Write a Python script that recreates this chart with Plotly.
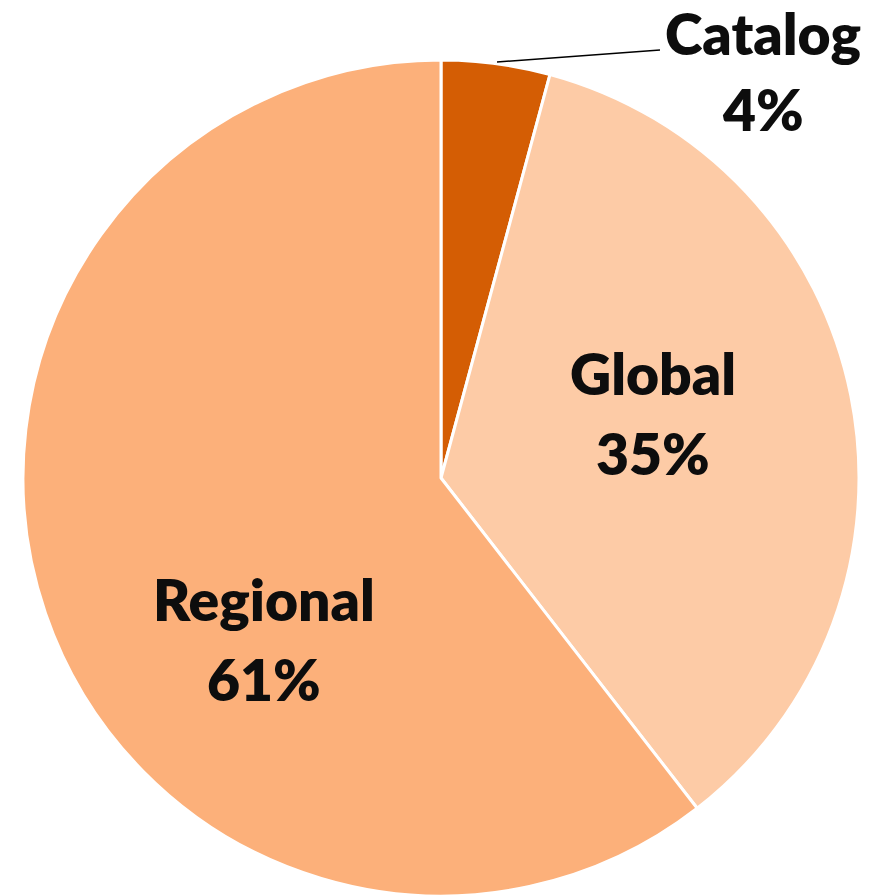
import plotly.graph_objects as go

categories = ["Catalog", "Global", "Regional"]
values = [4.2, 35.3, 60.5]
pct_labels = ["4%", "35%", "61%"]
colors = ["#D45D04", "#FDCBA6", "#FCB07A"]

W, H = 881, 896
cx, cy, r = 441, 478, 418

fig = go.Figure(go.Pie(
    labels=categories, values=values, sort=False, direction="clockwise",
    rotation=0, marker=dict(colors=colors, line=dict(color="white", width=3)),
    textinfo="none", hoverinfo="label+percent", showlegend=False,
    domain=dict(x=[(cx - r) / W, (cx + r) / W], y=[(H - cy - r) / H, (H - cy + r) / H]),
))

font = dict(family="Lato, Open Sans, sans-serif", size=57, color="#0D0D0D", weight=800)
# label positions in pixels (center x, name y, pct y)
label_pos = {"Catalog": (763, 33, 109), "Global": (653, 373, 453), "Regional": (264, 599, 679)}
for name, pct in zip(categories, pct_labels):
    x, y1, y2 = label_pos[name]
    for txt, yy in ((name, y1), (pct, y2)):
        fig.add_annotation(x=x / W, y=1 - yy / H, xref="paper", yref="paper",
                           text=txt, showarrow=False, font=font,
                           xanchor="center", yanchor="middle")

fig.add_shape(type="line", xref="paper", yref="paper",
              x0=497 / W, y0=1 - 62 / H, x1=660 / W, y1=1 - 50 / H,
              line=dict(color="black", width=1.5))

fig.update_layout(width=W, height=H, margin=dict(l=0, r=0, t=0, b=0),
                  paper_bgcolor="white", plot_bgcolor="white")
fig.write_html("out.html", config={"displayModeBar": False},
               post_script="document.body.style.margin='0';document.body.style.overflow='hidden';")
